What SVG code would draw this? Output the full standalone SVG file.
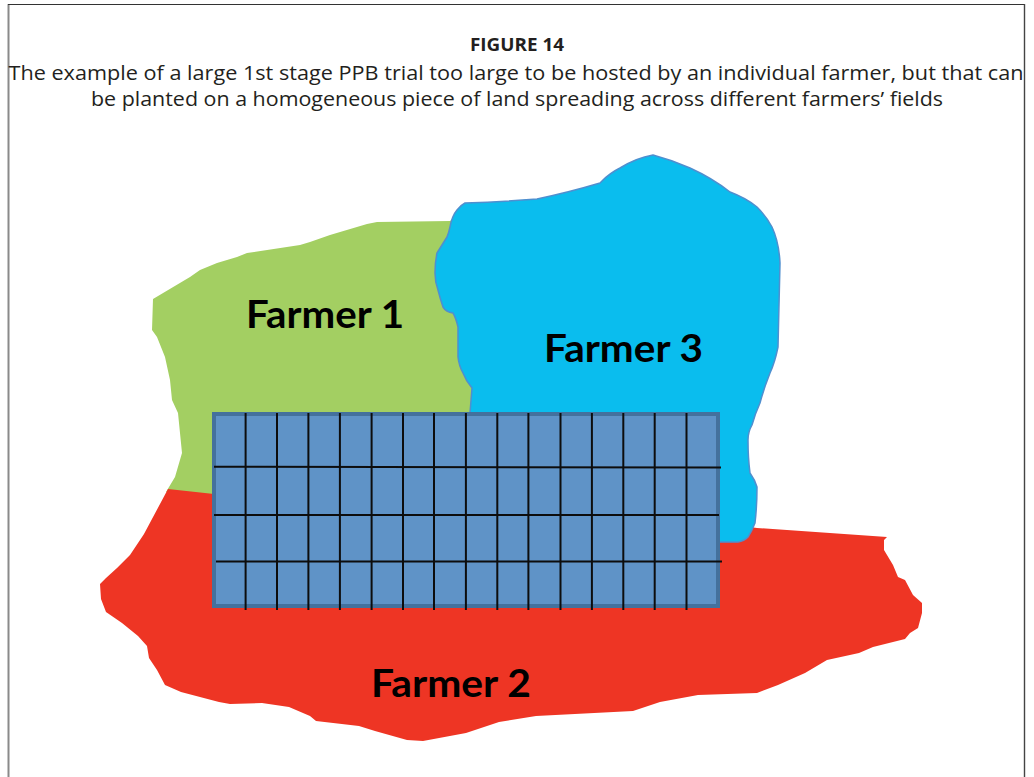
<svg xmlns="http://www.w3.org/2000/svg" width="1034" height="777" viewBox="0 0 1034 777">
  <style>
    .title { font-family: "Open Sans", "Liberation Sans", sans-serif; fill: #231f20; text-anchor: middle; }
    .head { font-weight: bold; font-size: 18.5px; }
    .cap { font-size: 20.5px; }
    .label { font-family: Lato, "Liberation Sans", sans-serif; font-weight: bold; font-size: 38px; fill: #000; text-anchor: middle; }
    .plot { fill: #5f93c7; stroke: #44719d; stroke-width: 4; }
    .cell { stroke: #0d0d0d; stroke-width: 2; fill: none; }
  </style>

  <rect x="0" y="0" width="1034" height="777" fill="#fff"/>

  <!-- page frame -->
  <line x1="8.5" y1="4" x2="8.5" y2="777" stroke="#8a8a8a" stroke-width="2"/>
  <line x1="8" y1="4.5" x2="1025" y2="4.5" stroke="#333" stroke-width="1.2"/>
  <line x1="1024.5" y1="4" x2="1024.5" y2="777" stroke="#444" stroke-width="1.4"/>

  <!-- caption -->
  <g id="caption" class="title">
    <text class="head" x="517" y="51" textLength="94" lengthAdjust="spacingAndGlyphs">FIGURE 14</text>
    <text class="cap" x="516" y="80" textLength="1015" lengthAdjust="spacingAndGlyphs">The example of a large 1st stage PPB trial too large to be hosted by an individual farmer, but that can</text>
    <text class="cap" x="517" y="106" textLength="852" lengthAdjust="spacingAndGlyphs">be planted on a homogeneous piece of land spreading across different farmers’ fields</text>
  </g>

  <!-- field of farmer 1 -->
  <g id="farmer1">
    <path fill="#a3cf62" d="M153,299 L152,330 L157,337 L165,357 L170,380 L172,400 L178,413 L182,453 L175,477 L166,492 L300,500 L480,420 L470,205 L450,221 L377,222 L367,224 L330,235 L310,242 L300,245 L247,253 L237,257 L217,263 L200,270 L190,277 Z"/>
  </g>

  <!-- field of farmer 2 -->
  <g id="farmer2">
    <path fill="#ee3524" d="M168,489 L214,494 L700,520 L757,528 L887,537 L884,540 L884,550 L893,565 L898,577 L905,580 L913,595 L922,603 L922,613 L918,628 L910,633 L905,639 L873,647 L859,653 L827,660 L805,673 L778,685 L757,693 L698,695 L660,702 L633,711 L536,716 L499,722 L466,733 L423,741 L407,740 L375,731 L359,726 L316,721 L310,716 L289,707 L262,703 L230,704 L219,702 L181,692 L165,685 L157,670 L149,658 L147,646 L138,636 L122,623 L106,612 L101,599 L100,584 L106,578 L117,568 L130,555 L144,534 L160,504 Z"/>
  </g>

  <!-- field of farmer 3 -->
  <g id="farmer3">
    <path fill="#0abdee" stroke="#4f8fcf" stroke-width="1.5" stroke-linejoin="round" d="M465,203 Q500,202 537,199 Q570,192 600,183 L602,181 Q610,173 620,168 Q636,158 653,155 Q672,160 690,168 Q712,178 730,192 Q746,198 757,207 Q766,216 772,227 Q779,242 780,263 L778,347 Q775,362 770,373 Q764,388 760,403 Q755,414 752,425 Q748,432 748,440 Q748,458 750,473 Q755,480 757,487 Q757,506 755,523 Q752,531 748,537 Q744,541 738,542 L700,542 L470,420 L470,413 Q471,400 472,388 Q466,381 463,373 Q459,366 458,357 L458,327 Q456,318 453,313 Q446,312 443,307 Q440,298 438,290 Q435,282 435,273 Q435,262 437,253 Q442,245 447,237 Q449,232 450,227 Q452,216 457,210 Q461,205 465,203 Z"/>
  </g>

  <!-- trial plots -->
  <g id="trial">
    <rect class="plot" x="214" y="414" width="504" height="192"/>
    <g class="cell">
      <line x1="245.6" y1="413" x2="245.6" y2="610"/>
      <line x1="277" y1="413" x2="277" y2="610"/>
      <line x1="308.4" y1="413" x2="308.4" y2="610"/>
      <line x1="339.9" y1="413" x2="339.9" y2="610"/>
      <line x1="371.6" y1="413" x2="371.6" y2="610"/>
      <line x1="403" y1="413" x2="403" y2="610"/>
      <line x1="434" y1="413" x2="434" y2="610"/>
      <line x1="465.9" y1="413" x2="465.9" y2="610"/>
      <line x1="497.3" y1="413" x2="497.3" y2="610"/>
      <line x1="528.4" y1="413" x2="528.4" y2="610"/>
      <line x1="560.5" y1="413" x2="560.5" y2="610"/>
      <line x1="591.9" y1="413" x2="591.9" y2="610"/>
      <line x1="623.3" y1="413" x2="623.3" y2="610"/>
      <line x1="654.7" y1="413" x2="654.7" y2="610"/>
      <line x1="686.5" y1="413" x2="686.5" y2="610"/>
      <line x1="214" y1="466.7" x2="721" y2="467.5"/>
      <line x1="214" y1="515" x2="719" y2="515"/>
      <line x1="216" y1="561.5" x2="722" y2="561.5"/>
    </g>
  </g>

  <!-- owner labels -->
  <text class="label" x="325" y="328" textLength="158" lengthAdjust="spacingAndGlyphs">Farmer 1</text>
  <text class="label" x="623.5" y="362" textLength="159" lengthAdjust="spacingAndGlyphs">Farmer 3</text>
  <text class="label" x="451" y="697" textLength="160" lengthAdjust="spacingAndGlyphs">Farmer 2</text>
</svg>
